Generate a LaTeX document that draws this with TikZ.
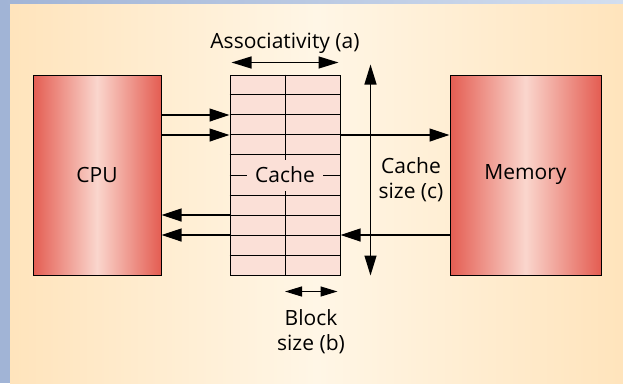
\documentclass[tikz,border=0pt]{standalone}
\usepackage{fontspec}
\setmainfont{Open Sans}
\usepackage{tikz}
\usetikzlibrary{arrows.meta}
\usetikzlibrary{calc}
\definecolor{bgblue}{HTML}{A1B4D6}
\definecolor{bgtop}{HTML}{D3DEEF}
\definecolor{cream}{HTML}{FFE4BC}
\definecolor{creamlight}{HTML}{FFF6E6}
\definecolor{boxred}{HTML}{E45D52}
\definecolor{boxlight}{HTML}{FAD6CD}
\definecolor{cachepink}{HTML}{FBE0D7}

\begin{document}
\begin{tikzpicture}[x=1pt, y=-1pt, font=\fontsize{21}{25}\selectfont,
  unit/.style={draw=black, line width=1pt, left color=boxred, right color=boxred,
    middle color=boxlight, minimum width=128pt, minimum height=200pt, inner sep=0pt},
  arr/.style={line width=1.2pt, -{Triangle[length=20pt,width=13pt]}},
  dblarr/.style={line width=1.2pt, {Triangle[length=20pt,width=12pt]}-{Triangle[length=20pt,width=12pt]}},
  smallarr/.style={line width=1.2pt, {Triangle[length=17pt,width=10pt]}-{Triangle[length=17pt,width=10pt]}},
  caption/.style={align=center, inner sep=0pt}]
\useasboundingbox (0,0) rectangle (623,383);
\fill[bgblue] (0,0) rectangle (623,383);
\shade[left color=bgblue, right color=bgtop] (0,0) rectangle (623,4);
\shade[left color=cream, right color=cream, middle color=creamlight] (10,4) rectangle (623,383);

\node[unit] (cpu) at (97,175) {CPU};
\node[unit, minimum width=151pt] (mem) at (525.5,175) {Memory};

\node[draw=black, line width=1pt, fill=cachepink, minimum width=110pt,
  minimum height=200pt, inner sep=0pt] (cache) at (285,175) {};
\foreach \i in {1,...,9}
  \draw[line width=0.9pt] ($(cache.north west)!\i/10!(cache.south west)$)
    -- ($(cache.north east)!\i/10!(cache.south east)$);
\draw[line width=0.9pt] (cache.north) -- (cache.south);
\node[fill=cachepink, inner xsep=8pt, inner ysep=3pt, minimum height=31pt] (cachelbl) at (cache.center) {Cache};

\draw[arr] ([yshift=60pt]cpu.east) -- ([yshift=60pt]cache.west);
\draw[arr] ([yshift=40pt]cpu.east) -- ([yshift=40pt]cache.west);
\draw[arr] ([yshift=40pt]cache.east) -- ([yshift=40pt]mem.west);
\draw[arr] ([yshift=-40pt]cache.west) -- ([yshift=-40pt]cpu.east);
\draw[arr] ([yshift=-60pt]cache.west) -- ([yshift=-60pt]cpu.east);
\draw[arr] ([yshift=-60pt]mem.west) -- ([yshift=-60pt]cache.east);

\coordinate (assocL) at ([xshift=2pt,yshift=12pt]cache.north west);
\coordinate (assocR) at ([xshift=-2pt,yshift=12pt]cache.north east);
\draw[dblarr] (assocL) -- (assocR);
\node[caption] (assoc) at (285,43) {Associativity (a)};

\coordinate (sizeT) at ([xshift=30pt,yshift=10pt]cache.north east);
\coordinate (sizeB) at ([xshift=30pt]cache.south east);
\draw[dblarr] (sizeT) -- (sizeB);
\node[caption] (csize) at (411,180) {Cache\\size (c)};

\coordinate (blockL) at ([yshift=-16pt]cache.south);
\coordinate (blockR) at ([xshift=-3pt,yshift=-16pt]cache.south east);
\draw[smallarr] (blockL) -- (blockR);
\node[caption] (bsize) at (311,332) {Block\\size (b)};
\end{tikzpicture}
\end{document}
